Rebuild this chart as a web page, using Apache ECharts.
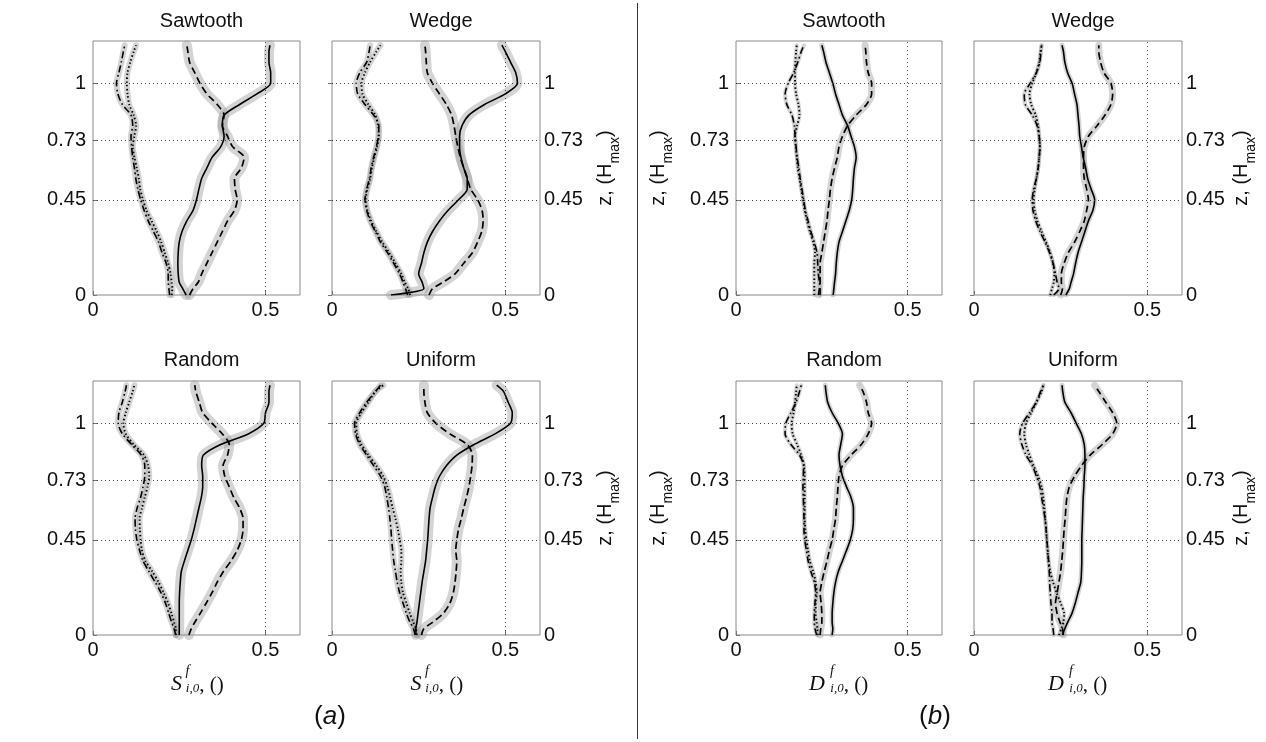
<!DOCTYPE html>
<html>
<head>
<meta charset="utf-8">
<script src="https://cdn.jsdelivr.net/npm/echarts@6/dist/echarts.min.js"></script>
<style>
  html, body { margin: 0; padding: 0; background: #fff; }
  #chart { width: 1266px; height: 742px; }
</style>
</head>
<body>
<div id="chart"></div>
<script>
// Height levels z (in H_max) shared by every profile
const zLevels = [0, 0.03, 0.06, 0.1, 0.15, 0.2, 0.25, 0.3, 0.35, 0.4, 0.45, 0.5, 0.55, 0.6, 0.65, 0.7, 0.75, 0.8, 0.85, 0.9, 0.95, 1.0, 1.05, 1.1, 1.15, 1.18];

const xTicks = [0, 0.5];
const zTicks = [0, 0.45, 0.73, 1];
const panelTitles = ['Sawtooth', 'Wedge', 'Random', 'Uniform'];

// (a) S^f_{i,0} profiles
const aSawSolid   = [0.27, 0.26, 0.25, 0.247, 0.246, 0.247, 0.25, 0.258, 0.272, 0.29, 0.30, 0.307, 0.315, 0.33, 0.345, 0.37, 0.38, 0.375, 0.38, 0.425, 0.475, 0.515, 0.515, 0.51, 0.51, 0.513];
const aSawDashed  = [0.28, 0.29, 0.305, 0.315, 0.33, 0.345, 0.36, 0.375, 0.39, 0.41, 0.418, 0.412, 0.41, 0.43, 0.438, 0.405, 0.39, 0.375, 0.38, 0.36, 0.33, 0.31, 0.295, 0.28, 0.275, 0.272];
const aSawDashDot = [0.222, 0.22, 0.218, 0.218, 0.212, 0.2, 0.19, 0.175, 0.16, 0.148, 0.138, 0.13, 0.124, 0.12, 0.115, 0.112, 0.11, 0.115, 0.11, 0.085, 0.072, 0.068, 0.075, 0.082, 0.088, 0.092];
const aSawDotted  = [0.228, 0.23, 0.228, 0.225, 0.218, 0.208, 0.198, 0.185, 0.17, 0.155, 0.145, 0.137, 0.133, 0.127, 0.12, 0.115, 0.12, 0.125, 0.118, 0.105, 0.1, 0.098, 0.1, 0.108, 0.118, 0.125];

const aWedSolid   = [0.17, 0.265, 0.26, 0.25, 0.258, 0.265, 0.275, 0.29, 0.31, 0.335, 0.365, 0.39, 0.39, 0.38, 0.372, 0.368, 0.368, 0.375, 0.395, 0.44, 0.5, 0.535, 0.53, 0.515, 0.5, 0.49];
const aWedDashed  = [0.28, 0.29, 0.32, 0.355, 0.38, 0.405, 0.42, 0.432, 0.436, 0.433, 0.42, 0.40, 0.39, 0.38, 0.37, 0.363, 0.357, 0.352, 0.345, 0.33, 0.31, 0.29, 0.275, 0.272, 0.27, 0.268];
const aWedDashDot = [0.218, 0.212, 0.205, 0.195, 0.178, 0.16, 0.14, 0.125, 0.11, 0.1, 0.095, 0.1, 0.108, 0.113, 0.12, 0.128, 0.134, 0.135, 0.12, 0.095, 0.074, 0.07, 0.08, 0.1, 0.107, 0.11];
const aWedDotted  = [0.225, 0.22, 0.21, 0.2, 0.183, 0.165, 0.145, 0.128, 0.113, 0.102, 0.097, 0.102, 0.11, 0.115, 0.122, 0.13, 0.135, 0.133, 0.125, 0.105, 0.088, 0.085, 0.095, 0.11, 0.128, 0.14];

const aRndSolid   = [0.25, 0.25, 0.25, 0.25, 0.25, 0.251, 0.253, 0.256, 0.265, 0.275, 0.285, 0.293, 0.30, 0.307, 0.314, 0.318, 0.318, 0.315, 0.32, 0.37, 0.45, 0.495, 0.5, 0.51, 0.51, 0.513];
const aRndDashed  = [0.278, 0.285, 0.295, 0.31, 0.328, 0.345, 0.36, 0.378, 0.40, 0.418, 0.43, 0.435, 0.435, 0.425, 0.408, 0.395, 0.382, 0.377, 0.39, 0.395, 0.375, 0.345, 0.318, 0.308, 0.298, 0.295];
const aRndDashDot = [0.24, 0.235, 0.228, 0.22, 0.21, 0.197, 0.18, 0.162, 0.145, 0.135, 0.127, 0.123, 0.122, 0.128, 0.138, 0.145, 0.15, 0.15, 0.14, 0.112, 0.085, 0.073, 0.075, 0.085, 0.093, 0.097];
const aRndDotted  = [0.24, 0.24, 0.235, 0.228, 0.218, 0.205, 0.19, 0.172, 0.152, 0.142, 0.138, 0.136, 0.135, 0.142, 0.15, 0.158, 0.163, 0.16, 0.148, 0.118, 0.095, 0.088, 0.095, 0.105, 0.115, 0.12];

const aUniSolid   = [0.242, 0.242, 0.245, 0.248, 0.252, 0.256, 0.26, 0.265, 0.27, 0.273, 0.276, 0.278, 0.28, 0.283, 0.29, 0.298, 0.31, 0.33, 0.36, 0.41, 0.47, 0.515, 0.52, 0.508, 0.495, 0.475];
const aUniDashed  = [0.258, 0.265, 0.29, 0.32, 0.34, 0.35, 0.355, 0.358, 0.36, 0.357, 0.36, 0.365, 0.373, 0.38, 0.388, 0.395, 0.40, 0.404, 0.405, 0.39, 0.34, 0.30, 0.275, 0.268, 0.265, 0.265];
const aUniDashDot = [0.24, 0.235, 0.225, 0.215, 0.205, 0.195, 0.188, 0.183, 0.178, 0.175, 0.172, 0.17, 0.167, 0.163, 0.158, 0.152, 0.14, 0.12, 0.10, 0.08, 0.068, 0.065, 0.08, 0.10, 0.125, 0.14];
const aUniDotted  = [0.245, 0.242, 0.235, 0.225, 0.215, 0.205, 0.20, 0.198, 0.20, 0.20, 0.195, 0.19, 0.183, 0.175, 0.168, 0.16, 0.148, 0.128, 0.105, 0.085, 0.072, 0.07, 0.085, 0.105, 0.125, 0.148];

// (b) D^f_{i,0} profiles
const bSawSolid   = [0.283, 0.285, 0.287, 0.29, 0.292, 0.295, 0.30, 0.31, 0.32, 0.33, 0.337, 0.34, 0.342, 0.345, 0.35, 0.345, 0.335, 0.325, 0.31, 0.30, 0.29, 0.282, 0.272, 0.262, 0.255, 0.25];
const bSawDashed  = [0.24, 0.243, 0.245, 0.245, 0.245, 0.25, 0.255, 0.26, 0.265, 0.268, 0.272, 0.275, 0.28, 0.287, 0.295, 0.30, 0.31, 0.325, 0.35, 0.38, 0.395, 0.395, 0.385, 0.38, 0.378, 0.376];
const bSawDashDot = [0.245, 0.245, 0.243, 0.24, 0.238, 0.236, 0.228, 0.218, 0.21, 0.202, 0.197, 0.192, 0.187, 0.183, 0.178, 0.175, 0.172, 0.17, 0.163, 0.148, 0.143, 0.152, 0.168, 0.18, 0.19, 0.198];
const bSawDotted  = [0.228, 0.228, 0.228, 0.228, 0.228, 0.23, 0.225, 0.215, 0.207, 0.20, 0.195, 0.19, 0.185, 0.18, 0.177, 0.174, 0.172, 0.178, 0.185, 0.182, 0.175, 0.172, 0.172, 0.173, 0.175, 0.177];

const bWedSolid   = [0.265, 0.275, 0.28, 0.287, 0.293, 0.30, 0.31, 0.32, 0.33, 0.343, 0.348, 0.338, 0.328, 0.322, 0.315, 0.31, 0.305, 0.303, 0.30, 0.297, 0.29, 0.283, 0.27, 0.262, 0.258, 0.254];
const bWedDashed  = [0.25, 0.255, 0.252, 0.252, 0.26, 0.272, 0.29, 0.305, 0.318, 0.325, 0.33, 0.325, 0.318, 0.316, 0.316, 0.318, 0.33, 0.355, 0.378, 0.395, 0.40, 0.395, 0.375, 0.365, 0.36, 0.36];
const bWedDashDot = [0.23, 0.245, 0.24, 0.235, 0.228, 0.218, 0.205, 0.19, 0.178, 0.17, 0.168, 0.172, 0.18, 0.185, 0.188, 0.19, 0.188, 0.182, 0.168, 0.148, 0.145, 0.162, 0.18, 0.19, 0.193, 0.195];
const bWedDotted  = [0.22, 0.225, 0.23, 0.232, 0.228, 0.22, 0.208, 0.195, 0.183, 0.175, 0.172, 0.175, 0.18, 0.185, 0.188, 0.19, 0.188, 0.185, 0.178, 0.165, 0.16, 0.168, 0.18, 0.188, 0.192, 0.195];

const bRndSolid   = [0.28, 0.282, 0.28, 0.28, 0.282, 0.285, 0.29, 0.298, 0.31, 0.322, 0.333, 0.34, 0.342, 0.342, 0.335, 0.322, 0.31, 0.303, 0.30, 0.305, 0.31, 0.298, 0.28, 0.267, 0.262, 0.26];
const bRndDashed  = [0.245, 0.247, 0.25, 0.25, 0.248, 0.245, 0.25, 0.257, 0.265, 0.272, 0.28, 0.285, 0.29, 0.292, 0.295, 0.297, 0.30, 0.31, 0.335, 0.365, 0.385, 0.395, 0.385, 0.38, 0.37, 0.36];
const bRndDashDot = [0.235, 0.23, 0.228, 0.228, 0.23, 0.232, 0.228, 0.218, 0.21, 0.205, 0.20, 0.198, 0.198, 0.197, 0.196, 0.195, 0.196, 0.197, 0.185, 0.16, 0.143, 0.145, 0.16, 0.175, 0.185, 0.19];
const bRndDotted  = [0.238, 0.237, 0.235, 0.232, 0.232, 0.235, 0.232, 0.225, 0.215, 0.21, 0.205, 0.202, 0.20, 0.20, 0.20, 0.20, 0.20, 0.198, 0.19, 0.178, 0.165, 0.162, 0.168, 0.172, 0.175, 0.177];

const bUniSolid   = [0.255, 0.262, 0.27, 0.282, 0.292, 0.30, 0.308, 0.31, 0.311, 0.311, 0.311, 0.312, 0.313, 0.314, 0.315, 0.317, 0.318, 0.32, 0.32, 0.318, 0.31, 0.295, 0.28, 0.262, 0.256, 0.254];
const bUniDashed  = [0.258, 0.255, 0.248, 0.24, 0.235, 0.24, 0.245, 0.25, 0.253, 0.256, 0.258, 0.26, 0.263, 0.265, 0.268, 0.275, 0.29, 0.31, 0.335, 0.37, 0.40, 0.412, 0.40, 0.38, 0.36, 0.348];
const bUniDashDot = [0.23, 0.228, 0.225, 0.225, 0.222, 0.22, 0.218, 0.217, 0.215, 0.213, 0.21, 0.208, 0.205, 0.20, 0.195, 0.19, 0.18, 0.168, 0.15, 0.138, 0.132, 0.14, 0.16, 0.18, 0.192, 0.20];
const bUniDotted  = [0.245, 0.252, 0.258, 0.26, 0.25, 0.238, 0.228, 0.22, 0.215, 0.212, 0.21, 0.208, 0.205, 0.203, 0.20, 0.195, 0.185, 0.172, 0.16, 0.15, 0.145, 0.15, 0.165, 0.18, 0.195, 0.20];

// ---------------------------------------------------------------------------
const SANS = 'Liberation Sans, Arial, Helvetica, sans-serif';
const SERIF = 'Liberation Serif, DejaVu Serif, serif';

// line order: solid, dashed, dash-dot, dotted
const lineTypes = ['solid', [7, 4], [7, 3, 1.6, 3], [1.4, 2.4]];
const lineWidths = [1.6, 1.7, 1.6, 1.9];

const colLeft = [93, 332, 736, 974];
const colWidth = [207, 208, 206, 208];
const rowTop = [41, 381];
const rowHeight = 254;

const panels = [
  { col: 0, row: 0, t: 0, p: [aSawSolid, aSawDashed, aSawDashDot, aSawDotted], halo: [10, 10, 6, 6], side: 'left' },
  { col: 1, row: 0, t: 1, p: [aWedSolid, aWedDashed, aWedDashDot, aWedDotted], halo: [10, 10, 6, 6], side: 'right' },
  { col: 0, row: 1, t: 2, p: [aRndSolid, aRndDashed, aRndDashDot, aRndDotted], halo: [10, 10, 6, 6], side: 'left' },
  { col: 1, row: 1, t: 3, p: [aUniSolid, aUniDashed, aUniDashDot, aUniDotted], halo: [10, 10, 6, 6], side: 'right' },
  { col: 2, row: 0, t: 0, p: [bSawSolid, bSawDashed, bSawDashDot, bSawDotted], halo: [5, 7, 4, 4], side: 'left' },
  { col: 3, row: 0, t: 1, p: [bWedSolid, bWedDashed, bWedDashDot, bWedDotted], halo: [5, 7, 4, 4], side: 'right' },
  { col: 2, row: 1, t: 2, p: [bRndSolid, bRndDashed, bRndDashDot, bRndDotted], halo: [5, 7, 4, 4], side: 'left' },
  { col: 3, row: 1, t: 3, p: [bUniSolid, bUniDashed, bUniDashDot, bUniDotted], halo: [5, 7, 4, 4], side: 'right' }
];

const toPairs = xs => xs.map((x, i) => [x, zLevels[i]]);

const grids = [], xAxes = [], yAxes = [], series = [], titles = [];

panels.forEach((pn, gi) => {
  const left = colLeft[pn.col], top = rowTop[pn.row], width = colWidth[pn.col];
  grids.push({ left, top, width, height: rowHeight, show: true, borderColor: '#8a8a8a', borderWidth: 1, backgroundColor: 'transparent', containLabel: false });

  xAxes.push({
    gridIndex: gi, type: 'value', min: 0, max: 0.6,
    axisLine: { show: false }, splitLine: { show: false },
    axisTick: { show: true, inside: true, length: 4, customValues: xTicks, lineStyle: { color: '#777' } },
    axisLabel: { customValues: xTicks, fontSize: 20, color: '#111', fontFamily: SANS, margin: 5 }
  });
  yAxes.push({
    gridIndex: gi, type: 'value', min: 0, max: 1.2, position: pn.side,
    axisLine: { show: false }, splitLine: { show: false },
    axisTick: { show: true, inside: true, length: 4, customValues: zTicks, lineStyle: { color: '#777' } },
    axisLabel: { customValues: zTicks, fontSize: 20, color: '#111', fontFamily: SANS, margin: pn.side === 'left' ? 7 : 4 }
  });

  titles.push({
    text: panelTitles[pn.t], left: left + width / 2, top: pn.row === 0 ? 6 : 345, textAlign: 'center',
    textStyle: { fontSize: 20, fontWeight: 'normal', color: '#111', fontFamily: SANS }
  });

  // grey uncertainty halos behind the profiles
  pn.p.forEach((xs, k) => {
    const s = {
      type: 'line', xAxisIndex: gi, yAxisIndex: gi, data: toPairs(xs),
      showSymbol: false, symbol: 'none', smooth: 0.25, silent: true, z: 2,
      lineStyle: { color: '#999', opacity: 0.42, width: pn.halo[k], cap: 'round', join: 'round' }
    };
    if (k === 0) {
      s.markLine = {
        silent: true, symbol: ['none', 'none'], label: { show: false }, animation: false,
        lineStyle: { color: '#444', type: [1, 3], width: 1 },
        data: [{ xAxis: xTicks[1] }].concat(zTicks.slice(1).map(v => ({ yAxis: v })))
      };
    }
    series.push(s);
  });
  // black profiles
  pn.p.forEach((xs, k) => {
    series.push({
      type: 'line', xAxisIndex: gi, yAxisIndex: gi, data: toPairs(xs),
      showSymbol: false, symbol: 'none', smooth: 0.25, silent: true, z: 3,
      lineStyle: { color: '#000', width: lineWidths[k], type: lineTypes[k], cap: 'butt', join: 'round' }
    });
  });
});

// axis names and panel labels
const graphics = [];
const zName = (x, y) => ({
  type: 'text', x, y, rotation: Math.PI / 2, silent: true,
  style: {
    text: '{n|z, (H}{s|max}{n|)}', align: 'center', verticalAlign: 'middle',
    rich: {
      n: { fontSize: 20, fontFamily: SANS, fill: '#111', lineHeight: 27, verticalAlign: 'top' },
      s: { fontSize: 14, fontFamily: SANS, fill: '#111', lineHeight: 15, verticalAlign: 'bottom' }
    }
  }
});
[[609, 168], [609, 508], [662, 168], [662, 508], [1245, 168], [1245, 508]].forEach(([x, y]) => graphics.push(zName(x, y)));

const mathName = (letter, cx, wide) => {
  const o = wide ? 2 : 0;
  return {
    type: 'group', silent: true,
    children: [
      { type: 'text', x: cx - 20 - o, y: 684, style: { text: letter, font: 'italic 22px ' + SERIF, fill: '#111', align: 'center', verticalAlign: 'middle' } },
      { type: 'text', x: cx - 9 + o, y: 671, style: { text: 'f', font: 'italic 14px ' + SERIF, fill: '#111', align: 'center', verticalAlign: 'middle' } },
      { type: 'text', x: cx - 4 + o, y: 689, style: { text: 'i,0', font: 'italic 13px ' + SERIF, fill: '#111', align: 'center', verticalAlign: 'middle' } },
      { type: 'text', x: cx + 15 + o, y: 685, style: { text: ', ()', font: '21px ' + SERIF, fill: '#111', align: 'center', verticalAlign: 'middle' } }
    ]
  };
};
[0, 1].forEach(c => graphics.push(mathName('S', colLeft[c] + colWidth[c] / 2, false)));
[2, 3].forEach(c => graphics.push(mathName('D', colLeft[c] + colWidth[c] / 2, true)));

const partLabel = (letter, cx) => ({
  type: 'text', x: cx, y: 717, silent: true,
  style: {
    text: '{p|(}{i|' + letter + '}{p|)}', align: 'center', verticalAlign: 'middle',
    rich: {
      p: { fontSize: 26, fontFamily: SANS, fill: '#111' },
      i: { fontSize: 26, fontFamily: SANS, fontStyle: 'italic', fill: '#111' }
    }
  }
});
graphics.push(partLabel('a', 330), partLabel('b', 935));

graphics.push({ type: 'line', silent: true, shape: { x1: 637.5, y1: 3, x2: 637.5, y2: 739 }, style: { stroke: '#333', lineWidth: 1 } });

const chart = echarts.init(document.getElementById('chart'), null, { renderer: 'canvas' });
chart.setOption({
  animation: false,
  backgroundColor: '#fff',
  title: titles,
  grid: grids,
  xAxis: xAxes,
  yAxis: yAxes,
  series,
  graphic: graphics
});
</script>
</body>
</html>
